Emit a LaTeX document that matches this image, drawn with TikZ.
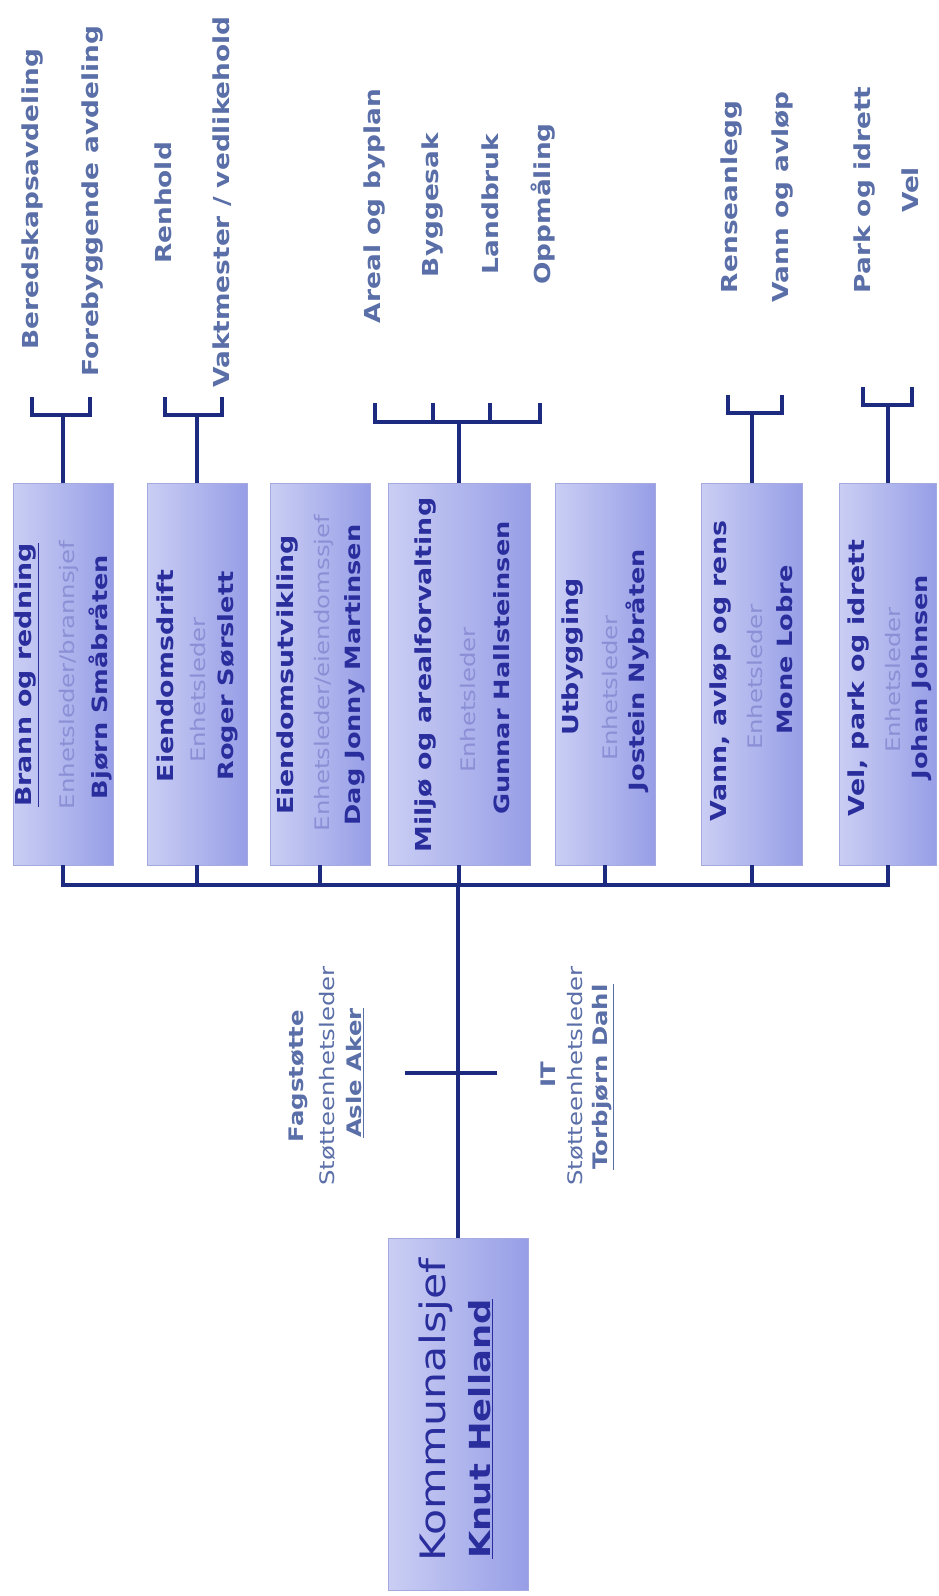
\documentclass[tikz,border=0pt]{standalone}
\usepackage{fontspec}
\setmainfont{DejaVu Sans}
\definecolor{navy}{HTML}{1C2A80}
\definecolor{slate}{HTML}{5A6EA8}
\definecolor{boxtxt}{HTML}{2A2D9C}
\definecolor{boxsub}{HTML}{8B90D6}
\definecolor{boxL}{HTML}{CACEF4}
\definecolor{boxR}{HTML}{979EE6}
\definecolor{boxE}{HTML}{A4AADF}
\begin{document}
\begin{tikzpicture}[x=1pt,y=-1pt,
  conn/.style={draw=navy, line width=4pt},
  unitbox/.style={rectangle, left color=boxL, right color=boxR, draw=boxE, line width=0.6pt, inner sep=0pt, minimum height=382pt},
  vtext/.style={rotate=90, xscale=1.22, inner sep=0pt},
  ttl/.style={vtext, text=boxtxt, font=\fontsize{22}{26}\selectfont\bfseries},
  sub/.style={vtext, text=boxsub, font=\fontsize{20}{24}\selectfont},
  nm/.style={vtext, text=boxtxt, font=\fontsize{21}{25}\selectfont\bfseries},
  lbl/.style={rotate=90, xscale=1.2, inner sep=0pt, text=slate, font=\fontsize{22}{26}\selectfont\bfseries},
  sup/.style={rotate=90, xscale=1.22, inner sep=0pt, text=slate, font=\fontsize{20}{24}\selectfont\bfseries},
  supsub/.style={rotate=90, xscale=1.22, inner sep=0pt, text=slate, font=\fontsize{20}{24}\selectfont},
]
\useasboundingbox (0,0) rectangle (938,1596);
\fill[white] (0,0) rectangle (938,1596);

% unit boxes
\node[unitbox, minimum width=100pt] (b1) at (63,674) {};
\node[unitbox, minimum width=100pt] (b2) at (197,674) {};
\node[unitbox, minimum width=100pt] (b3) at (320,674) {};
\node[unitbox, minimum width=142pt] (b4) at (459,674) {};
\node[unitbox, minimum width=100pt] (b5) at (605,674) {};
\node[unitbox, minimum width=101pt] (b6) at (752,674) {};
\node[unitbox, minimum width=97pt] (b7) at (888,674) {};
\node[unitbox, minimum width=140pt, minimum height=352pt] (k) at (458,1414) {};

% box texts
\node[ttl] (b1a) at (27,675) {\underline{Brann og redning}};
\node[sub] (b1b) at (69,675) {Enhetsleder/brannsjef};
\node[nm]  (b1c) at (100,677) {Bjørn Småbråten};

\node[ttl] (b2a) at (165,676) {Eiendomsdrift};
\node[sub] (b2b) at (198,690) {Enhetsleder};
\node[nm]  (b2c) at (228,676) {Roger Sørslett};

\node[ttl] (b3a) at (288,675) {Eiendomsutvikling};
\node[sub] (b3b) at (324,673) {Enhetsleder/eiendomssjef};
\node[nm]  (b3c) at (355,675) {Dag Jonny Martinsen};

\node[ttl] (b4a) at (426,675) {Miljø og arealforvalting};
\node[sub] (b4b) at (468,700) {Enhetsleder};
\node[nm]  (b4c) at (502,668) {Gunnar Hallsteinsen};

\node[ttl] (b5a) at (573,657) {Utbygging};
\node[sub] (b5b) at (610,688) {Enhetsleder};
\node[nm]  (b5c) at (637,670) {Jostein Nybråten};

\node[ttl] (b6a) at (721,671) {Vann, avløp og rens};
\node[sub] (b6b) at (755,677) {Enhetsleder};
\node[nm]  (b6c) at (785,650) {Mone Lobre};

\node[ttl] (b7a) at (859,678) {Vel, park og idrett};
\node[sub] (b7b) at (893,680) {Enhetsleder};
\node[nm]  (b7c) at (922,677) {Johan Johnsen};

\node[vtext, text=boxtxt, font=\fontsize{35}{40}\selectfont] (ka) at (436,1410) {Kommunalsjef};
\node[vtext, text=boxtxt, font=\fontsize{29}{34}\selectfont\bfseries] (kb) at (481,1429) {\underline{Knut Helland}};

% sub-unit labels
\node[lbl] (l1) at (33,199) {Beredskapsavdeling};
\node[lbl] (l2) at (93,201) {Forebyggende avdeling};
\node[lbl] (l3) at (163,203) {Renhold};
\node[lbl] (l4) at (222,202) {Vaktmester / vedlikehold};
\node[lbl] (l5) at (375,206) {Areal og byplan};
\node[lbl] (l6) at (433,205) {Byggesak};
\node[lbl] (l7) at (490,204) {Landbruk};
\node[lbl] (l8) at (543,204) {Oppmåling};
\node[lbl] (l9) at (732,197) {Renseanlegg};
\node[lbl] (l10) at (783,197) {Vann og avløp};
\node[lbl] (l11) at (865,190) {Park og idrett};
\node[lbl] (l12) at (910,190) {Vel};

% support units
\node[sup] (f1) at (298,1076) {Fagstøtte};
\node[supsub] (f2) at (327,1076) {Støtteenhetsleder};
\node[sup] (f3) at (355,1073) {\underline{Asle Aker}};
\node[sup] (i1) at (548,1075) {IT};
\node[supsub] (i2) at (575,1076) {Støtteenhetsleder};
\node[sup] (i3) at (603,1077) {\underline{Torbjørn Dahl}};

% coordinates
\coordinate (bus) at (458,885);
\coordinate (cbL) at (405,1073);
\coordinate (cbR) at (497,1073);
\coordinate (br1) at (62,415);
\coordinate (t1a) at (32,397);
\coordinate (t1b) at (90,397);
\coordinate (br2) at (195,415);
\coordinate (t2a) at (165,397);
\coordinate (t2b) at (222,397);
\coordinate (br4) at (458,422);
\coordinate (m1) at (375,403);
\coordinate (m2) at (433,403);
\coordinate (m3) at (490,403);
\coordinate (m4) at (540,403);
\coordinate (br6) at (752,413);
\coordinate (t6a) at (728,395);
\coordinate (t6b) at (782,395);
\coordinate (br7) at (890,405);
\coordinate (t7a) at (863,387);
\coordinate (t7b) at (912,387);

% bus and stubs
\draw[conn] (b1.south) -- (b1.south |- bus) -- (b7.south |- bus) -- (b7.south);
\draw[conn] (b2.south) -- (b2.south |- bus);
\draw[conn] (b3.south) -- (b3.south |- bus);
\draw[conn] (b4.south) -- (b4.south |- bus);
\draw[conn] (b5.south) -- (b5.south |- bus);
\draw[conn] (b6.south) -- (b6.south |- bus);
\draw[conn] (bus) -- (k.north);
\draw[conn] (cbL) -- (cbR);

% brackets
\draw[conn] (b1.north) -- (b1.north |- br1);
\draw[conn] (t1a) -- (t1a |- br1) -- (t1b |- br1) -- (t1b);
\draw[conn] (b2.north) -- (b2.north |- br2);
\draw[conn] (t2a) -- (t2a |- br2) -- (t2b |- br2) -- (t2b);
\draw[conn] (b4.north) -- (b4.north |- br4);
\draw[conn] (m1) -- (m1 |- br4) -- (m4 |- br4) -- (m4);
\draw[conn] (m2) -- (m2 |- br4);
\draw[conn] (m3) -- (m3 |- br4);
\draw[conn] (b6.north) -- (b6.north |- br6);
\draw[conn] (t6a) -- (t6a |- br6) -- (t6b |- br6) -- (t6b);
\draw[conn] (b7.north) -- (b7.north |- br7);
\draw[conn] (t7a) -- (t7a |- br7) -- (t7b |- br7) -- (t7b);
\end{tikzpicture}
\end{document}
